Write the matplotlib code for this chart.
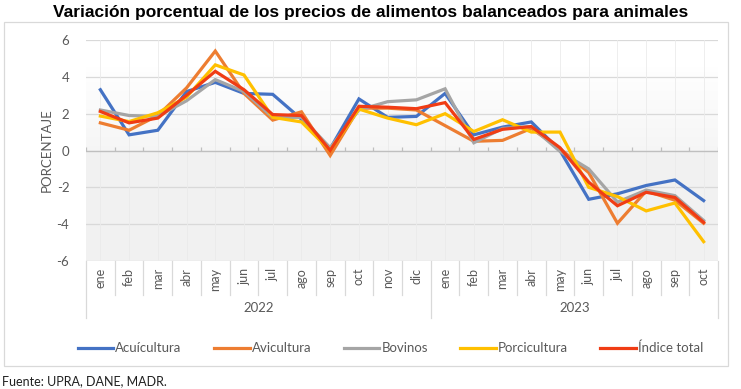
import matplotlib
matplotlib.use("Agg")
import matplotlib.pyplot as plt
import matplotlib.transforms as mtransforms
from matplotlib.patches import Rectangle
import numpy as np

months = ['ene', 'feb', 'mar', 'abr', 'may', 'jun', 'jul', 'ago', 'sep', 'oct', 'nov', 'dic',
          'ene', 'feb', 'mar', 'abr', 'may', 'jun', 'jul', 'ago', 'sep', 'oct']
years = ['2022', '2023']
year_counts = [12, 10]

acuicultura = [3.3, 0.85, 1.1, 3.2, 3.7, 3.1, 3.05, 1.7, 0.1, 2.8, 1.8, 1.85,
               3.1, 0.85, 1.27, 1.55, 0.0, -2.65, -2.35, -1.9, -1.6, -2.72]
avicultura = [1.5, 1.1, 1.9, 3.4, 5.4, 3.1, 1.65, 2.1, -0.27, 2.3, 2.3, 2.2,
              1.35, 0.5, 0.55, 1.2, 0.1, -1.2, -3.95, -2.2, -2.7, -3.95]
bovinos = [2.2, 1.9, 1.85, 2.7, 3.85, 3.2, 1.8, 1.8, 0.15, 2.2, 2.65, 2.75,
           3.35, 0.42, 1.2, 1.3, -0.05, -1.0, -2.8, -2.15, -2.45, -3.8]
porcicultura = [1.87, 1.57, 2.05, 2.9, 4.65, 4.1, 1.8, 1.55, 0.0, 2.25, 1.76, 1.4,
                2.0, 1.03, 1.67, 1.0, 1.0, -2.0, -2.5, -3.28, -2.85, -4.95]
indice_total = [2.12, 1.5, 1.76, 3.0, 4.3, 3.3, 1.95, 1.9, 0.0, 2.4, 2.35, 2.27,
                2.6, 0.6, 1.15, 1.3, 0.15, -1.72, -3.0, -2.27, -2.55, -3.9]

series = [
    ('Acuícultura', acuicultura, '#4472C4'),
    ('Avicultura', avicultura, '#ED7D31'),
    ('Bovinos', bovinos, '#A5A5A5'),
    ('Porcicultura', porcicultura, '#FFC000'),
    ('Índice total', indice_total, '#F03C14'),
]

TXT = '#595959'
FONT = ['Lato', 'DejaVu Sans']
plt.rcParams['font.family'] = FONT

fig = plt.figure(figsize=(7.41, 3.89), dpi=100)
W, H = 741, 389
ax = fig.add_axes([86 / W, 1 - 261 / H, (718 - 86) / W, (261 - 40) / H])

n = len(months)
x = np.arange(n)
ax.set_xlim(-0.5, n - 0.5)
ax.set_ylim(-6, 6)

# background shading
yy = np.linspace(6, -6, 400)
shade = np.where(yy >= 0, np.clip(1 - (4.5 - yy) / 4.5, 0, 1) * 0.035 + 0.963, 0.948)
shade = np.where(yy >= 4.5, 1.0, shade)
img = np.repeat(shade[:, None], 2, axis=1)
rgb = np.dstack([img, img, img])
ax.imshow(rgb, extent=[-0.5, n - 0.5, -6, 6], aspect='auto', zorder=0, interpolation='bilinear')

# gridlines
for v in [-6, -4, -2, 2, 4, 6]:
    ax.axhline(v, color='#d9d9d9', lw=0.9, zorder=1)
for xi in x:
    ax.axvline(xi, color='#ebebeb', lw=0.6, zorder=1)
ax.axhline(0, color='#bfbfbf', lw=1.0, zorder=2)
ax.vlines(np.arange(n + 1) - 0.5, 0, 0.2, color='#bfbfbf', lw=0.9, zorder=2)

for name, vals, col in series:
    ax.plot(x, vals, color=col, lw=2.3, label=name, zorder=3, solid_joinstyle='miter')

for s in ax.spines.values():
    s.set_visible(False)

ax.set_yticks([-6, -4, -2, 0, 2, 4, 6])
ax.set_yticklabels(['-6', '-4', '-2', '0', '2', '4', '6'])
ax.tick_params(axis='y', length=0, pad=12, labelsize=9.5, labelcolor=TXT)
ax.set_xticks(x)
ax.set_xticklabels(months, rotation=90, fontsize=9, color=TXT, va='top')
ax.tick_params(axis='x', length=0, pad=5)
ax.set_ylabel('PORCENTAJE', fontsize=9.5, color=TXT, labelpad=3)

# multi-level category axis lines
trans = mtransforms.blended_transform_factory(ax.transData, ax.transAxes)
bounds = np.arange(n + 1) - 0.5
year_edges = np.concatenate([[0], np.cumsum(year_counts)]) - 0.5
for b in bounds:
    low = -0.258 if b in year_edges else -0.154
    ax.plot([b, b], [0, low], color='#d9d9d9', lw=0.9, transform=trans, clip_on=False)
for i, yl in enumerate(years):
    c = (year_edges[i] + year_edges[i + 1]) / 2
    ax.text(c, -0.213, yl, transform=trans, ha='center', va='center', fontsize=9.5, color=TXT)

# legend
handles, labels = ax.get_legend_handles_labels()
leg = fig.legend(handles, labels, loc='center', bbox_to_anchor=(0.527, 1 - 348 / H), ncol=5,
                 frameon=False, fontsize=9.5, handlelength=2.7, handletextpad=0.15,
                 columnspacing=2.45)
for t in leg.get_texts():
    t.set_color(TXT)

# title, border, footer
fig.text(371 / W, 1 - 12 / H, 'Variación porcentual de los precios de alimentos balanceados para animales',
         ha='center', va='center', fontsize=12.5, fontweight='bold', family=['Liberation Sans', 'DejaVu Sans'],
         color='#000000')
fig.patches.append(Rectangle((4 / W, 1 - 366 / H), (728 - 4) / W, (366 - 22) / H, transform=fig.transFigure,
                             fill=False, edgecolor='#d9d9d9', lw=0.9))
fig.text(2 / W, 1 - 381 / H, 'Fuente: UPRA, DANE, MADR.', ha='left', va='center', fontsize=9, color='#202020')

fig.savefig('out.png', dpi=100)
